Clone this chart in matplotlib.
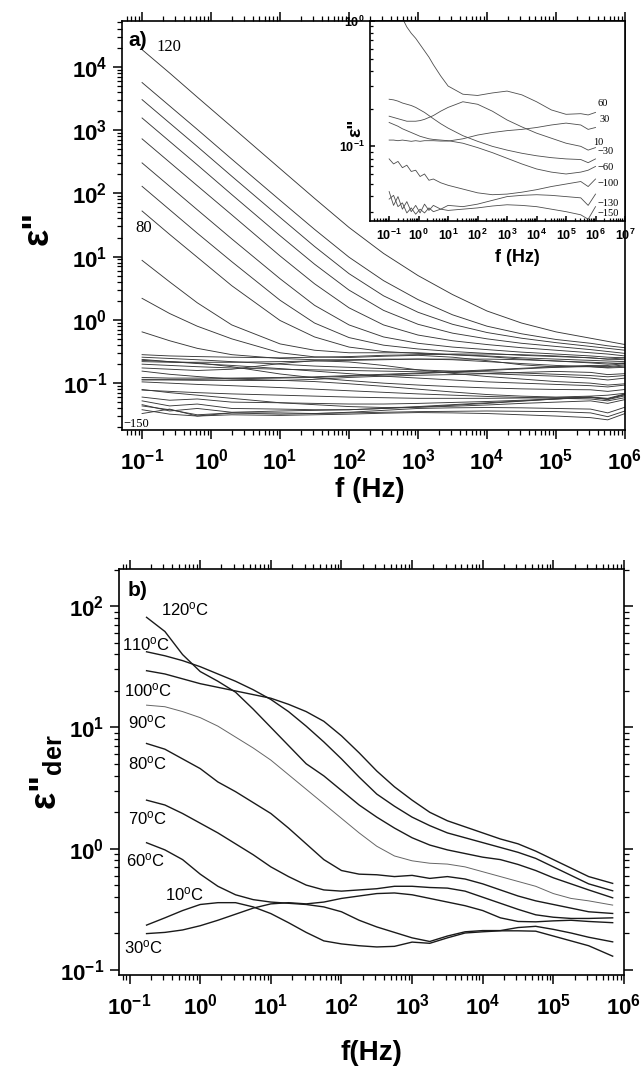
import numpy as np
import matplotlib
matplotlib.use("Agg")
from matplotlib import pyplot as plt
from matplotlib.ticker import FixedLocator, FuncFormatter, NullFormatter

plt.rcParams['font.family'] = ['Liberation Sans', 'DejaVu Sans']
plt.rcParams['mathtext.fontset'] = 'custom'
plt.rcParams['mathtext.rm'] = 'Liberation Sans'
plt.rcParams['mathtext.it'] = 'Liberation Sans:italic'
plt.rcParams['mathtext.bf'] = 'Liberation Sans:bold'

# ---------------- panel a: log10(f / Hz) and log10(eps'') ----------------
logf_a = [-1, -0.6, -0.2, 0.3, 1, 1.5, 2, 2.5, 3, 3.5, 4, 4.5, 5, 5.5, 5.75, 6]
temps_a = [120, 115, 110, 105, 100, 95, 90, 80, 70, 60, 50, 40, 30, 20, 10, 0,
           -10, -20, -30, -40, -50, -60, -70, -80, -90, -100, -110, -120, -130, -140, -150]
loge_a = [
    [4.27, 3.90, 3.52, 3.05, 2.39, 1.92, 1.46, 1.05, 0.70, 0.40, 0.14, -0.05, -0.19, -0.29, -0.34, -0.39],
    [3.75, 3.38, 3.01, 2.54, 1.89, 1.43, 0.99, 0.62, 0.32, 0.08, -0.10, -0.22, -0.31, -0.37, -0.41, -0.44],
    [3.48, 3.11, 2.74, 2.27, 1.62, 1.16, 0.73, 0.38, 0.12, -0.07, -0.20, -0.29, -0.36, -0.42, -0.45, -0.48],
    [3.19, 2.82, 2.45, 1.98, 1.33, 0.88, 0.47, 0.15, -0.07, -0.21, -0.30, -0.37, -0.42, -0.47, -0.50, -0.53],
    [2.86, 2.49, 2.12, 1.66, 1.01, 0.57, 0.19, -0.08, -0.24, -0.33, -0.39, -0.44, -0.48, -0.52, -0.54, -0.57],
    [2.48, 2.11, 1.74, 1.28, 0.65, 0.23, -0.08, -0.27, -0.37, -0.43, -0.47, -0.51, -0.54, -0.57, -0.59, -0.60],
    [2.11, 1.74, 1.37, 0.92, 0.31, -0.05, -0.28, -0.40, -0.46, -0.50, -0.53, -0.56, -0.58, -0.60, -0.62, -0.63],
    [1.72, 1.35, 0.99, 0.54, -0.01, -0.27, -0.43, -0.50, -0.53, -0.55, -0.57, -0.60, -0.62, -0.64, -0.65, -0.66],
    [0.94, 0.60, 0.27, -0.08, -0.38, -0.48, -0.52, -0.52, -0.52, -0.55, -0.58, -0.62, -0.65, -0.67, -0.68, -0.69],
    [0.34, 0.10, -0.10, -0.30, -0.52, -0.585, -0.595, -0.575, -0.56, -0.59, -0.645, -0.71, -0.745, -0.74, -0.75, -0.73],
    [-0.19, -0.33, -0.45, -0.55, -0.61, -0.63, -0.63, -0.62, -0.62, -0.63, -0.66, -0.69, -0.72, -0.74, -0.76, -0.75],
    [-0.55, -0.57, -0.58, -0.59, -0.60, -0.59, -0.58, -0.56, -0.55, -0.54, -0.54, -0.55, -0.57, -0.60, -0.62, -0.60],
    [-0.95, -0.95, -0.955, -0.957, -0.958, -0.94, -0.91, -0.89, -0.875, -0.865, -0.85, -0.83, -0.815, -0.83, -0.865, -0.85],
    [-0.66, -0.67, -0.67, -0.67, -0.66, -0.65, -0.64, -0.63, -0.62, -0.62, -0.62, -0.63, -0.65, -0.68, -0.70, -0.68],
    [-0.76, -0.78, -0.80, -0.78, -0.69, -0.645, -0.665, -0.72, -0.79, -0.845, -0.895, -0.935, -0.975, -1.00, -1.03, -1.01],
    [-0.59, -0.61, -0.63, -0.66, -0.70, -0.73, -0.75, -0.77, -0.79, -0.81, -0.82, -0.84, -0.86, -0.88, -0.90, -0.88],
    [-0.70, -0.72, -0.74, -0.76, -0.78, -0.79, -0.80, -0.81, -0.82, -0.83, -0.85, -0.87, -0.89, -0.92, -0.95, -0.92],
    [-0.64, -0.66, -0.69, -0.72, -0.77, -0.81, -0.85, -0.89, -0.92, -0.95, -0.98, -1.00, -1.02, -1.04, -1.06, -1.03],
    [-0.625, -0.66, -0.68, -0.74, -0.855, -0.915, -0.96, -1.00, -1.03, -1.055, -1.075, -1.09, -1.10, -1.105, -1.13, -1.10],
    [-0.91, -0.92, -0.92, -0.92, -0.91, -0.90, -0.88, -0.86, -0.84, -0.815, -0.79, -0.765, -0.74, -0.72, -0.72, -0.69],
    [-0.94, -0.94, -0.94, -0.93, -0.92, -0.91, -0.89, -0.87, -0.85, -0.825, -0.80, -0.775, -0.75, -0.73, -0.74, -0.71],
    [-0.81, -0.86, -0.895, -0.935, -0.955, -0.975, -1.01, -1.05, -1.095, -1.14, -1.18, -1.205, -1.22, -1.205, -1.19, -1.16],
    [-0.98, -1.00, -1.02, -1.04, -1.07, -1.095, -1.12, -1.145, -1.17, -1.19, -1.21, -1.225, -1.24, -1.25, -1.28, -1.23],
    [-1.11, -1.13, -1.15, -1.17, -1.19, -1.205, -1.22, -1.23, -1.24, -1.24, -1.24, -1.235, -1.23, -1.22, -1.26, -1.20],
    [-1.22, -1.27, -1.25, -1.30, -1.31, -1.32, -1.33, -1.33, -1.32, -1.305, -1.29, -1.27, -1.25, -1.22, -1.25, -1.18],
    [-1.10, -1.15, -1.19, -1.24, -1.31, -1.34, -1.37, -1.385, -1.38, -1.365, -1.345, -1.32, -1.30, -1.28, -1.32, -1.26],
    [-1.28, -1.36, -1.33, -1.40, -1.41, -1.42, -1.42, -1.40, -1.38, -1.35, -1.32, -1.285, -1.25, -1.22, -1.24, -1.17],
    [-1.34, -1.44, -1.40, -1.46, -1.44, -1.43, -1.42, -1.40, -1.37, -1.34, -1.31, -1.28, -1.25, -1.23, -1.25, -1.18],
    [-1.36, -1.42, -1.50, -1.47, -1.47, -1.48, -1.46, -1.43, -1.40, -1.39, -1.385, -1.39, -1.40, -1.41, -1.47, -1.38],
    [-1.48, -1.41, -1.52, -1.47, -1.49, -1.48, -1.47, -1.46, -1.45, -1.445, -1.44, -1.445, -1.45, -1.47, -1.53, -1.44],
    [-1.42, -1.49, -1.52, -1.50, -1.51, -1.50, -1.49, -1.475, -1.465, -1.47, -1.48, -1.50, -1.52, -1.545, -1.58, -1.48],
]

# ---------------- inset of panel a ----------------
logf_in = [-1, -0.85, -0.7, -0.55, -0.4, -0.25, -0.1, 0.05, 0.2, 0.35, 0.5, 0.75,
           1, 1.5, 2, 2.5, 3, 3.5, 4, 4.5, 5, 5.5, 5.75, 6]
temps_in = [60, 30, 10, -30, -60, -100, -130, -150]
loge_in = [
    [0.34, 0.24, 0.14, 0.02, -0.05, -0.10, -0.14, -0.19, -0.24, -0.29, -0.35, -0.44,
     -0.52, -0.585, -0.595, -0.575, -0.56, -0.59, -0.645, -0.71, -0.745, -0.74, -0.75, -0.73],
    [-0.95, -0.95, -0.955, -0.95, -0.955, -0.96, -0.955, -0.96, -0.955, -0.955, -0.955, -0.958,
     -0.958, -0.94, -0.91, -0.89, -0.875, -0.865, -0.85, -0.83, -0.815, -0.83, -0.865, -0.85],
    [-0.76, -0.77, -0.78, -0.79, -0.80, -0.80, -0.80, -0.795, -0.785, -0.77, -0.755, -0.72,
     -0.69, -0.645, -0.665, -0.72, -0.79, -0.845, -0.895, -0.935, -0.975, -1.00, -1.03, -1.01],
    [-0.625, -0.63, -0.64, -0.655, -0.665, -0.675, -0.69, -0.71, -0.73, -0.755, -0.78, -0.82,
     -0.855, -0.915, -0.96, -1.00, -1.03, -1.055, -1.075, -1.09, -1.10, -1.105, -1.13, -1.10],
    [-0.81, -0.825, -0.84, -0.86, -0.875, -0.89, -0.905, -0.92, -0.93, -0.94, -0.945, -0.95,
     -0.955, -0.975, -1.01, -1.05, -1.095, -1.14, -1.18, -1.205, -1.22, -1.205, -1.19, -1.16],
    [-1.10, -1.14, -1.12, -1.17, -1.15, -1.20, -1.19, -1.24, -1.22, -1.27, -1.26, -1.29,
     -1.31, -1.34, -1.37, -1.385, -1.38, -1.365, -1.345, -1.32, -1.30, -1.28, -1.32, -1.26],
    [-1.36, -1.47, -1.40, -1.50, -1.44, -1.52, -1.47, -1.53, -1.46, -1.51, -1.47, -1.50,
     -1.47, -1.48, -1.46, -1.43, -1.40, -1.39, -1.385, -1.39, -1.40, -1.41, -1.47, -1.38],
    [-1.42, -1.39, -1.48, -1.45, -1.53, -1.49, -1.54, -1.50, -1.53, -1.49, -1.52, -1.50,
     -1.51, -1.50, -1.49, -1.475, -1.465, -1.47, -1.48, -1.50, -1.52, -1.545, -1.58, -1.48],
]

# ---------------- panel b: log10(f) and log10(eps''_der) ----------------
logf_b = [-0.76, -0.5, -0.25, 0, 0.25, 0.5, 0.75, 1, 1.25, 1.5, 1.75, 2, 2.25, 2.5,
          2.75, 3, 3.25, 3.5, 3.75, 4, 4.25, 4.5, 4.75, 5, 5.25, 5.5, 5.84]
temps_b = [120, 110, 100, 90, 80, 70, 60, 30, 10]
loge_b = [
    # 120
    [1.907, 1.79, 1.60, 1.46, 1.38, 1.29, 1.15, 1.00, 0.85, 0.70, 0.60, 0.48, 0.36, 0.26,
     0.17, 0.09, 0.03, -0.01, -0.04, -0.07, -0.09, -0.13, -0.18, -0.24, -0.29, -0.34, -0.405],
    # 110
    [1.623, 1.59, 1.55, 1.50, 1.44, 1.38, 1.31, 1.23, 1.13, 1.01, 0.88, 0.74, 0.59, 0.45,
     0.35, 0.26, 0.19, 0.13, 0.09, 0.05, 0.01, -0.03, -0.08, -0.15, -0.22, -0.29, -0.347],
    # 100
    [1.467, 1.44, 1.40, 1.36, 1.33, 1.30, 1.27, 1.24, 1.19, 1.13, 1.05, 0.93, 0.79, 0.64,
     0.51, 0.40, 0.30, 0.23, 0.18, 0.13, 0.08, 0.04, -0.02, -0.09, -0.16, -0.23, -0.286],
    # 90
    [1.183, 1.17, 1.13, 1.08, 1.01, 0.92, 0.83, 0.73, 0.61, 0.49, 0.37, 0.25, 0.13, 0.02,
     -0.06, -0.10, -0.12, -0.127, -0.15, -0.19, -0.23, -0.27, -0.31, -0.37, -0.41, -0.43, -0.465],
    # 80
    [0.867, 0.82, 0.74, 0.66, 0.55, 0.47, 0.38, 0.29, 0.17, 0.04, -0.09, -0.18, -0.21, -0.215,
     -0.23, -0.22, -0.245, -0.23, -0.25, -0.29, -0.34, -0.39, -0.43, -0.46, -0.49, -0.52, -0.534],
    # 70
    [0.40, 0.36, 0.29, 0.21, 0.13, 0.04, -0.05, -0.15, -0.23, -0.30, -0.34, -0.35, -0.34, -0.33,
     -0.31, -0.31, -0.32, -0.325, -0.35, -0.40, -0.45, -0.50, -0.545, -0.565, -0.575, -0.575, -0.57],
    # 60
    [0.049, -0.01, -0.09, -0.21, -0.31, -0.38, -0.42, -0.44, -0.45, -0.46, -0.48, -0.52, -0.59, -0.645,
     -0.69, -0.735, -0.765, -0.72, -0.685, -0.675, -0.675, -0.65, -0.64, -0.665, -0.695, -0.73, -0.768],
    # 30
    [-0.70, -0.69, -0.67, -0.635, -0.59, -0.54, -0.49, -0.455, -0.445, -0.455, -0.44, -0.41, -0.39, -0.37,
     -0.365, -0.38, -0.41, -0.44, -0.47, -0.51, -0.57, -0.60, -0.603, -0.595, -0.59, -0.60, -0.61],
    # 10
    [-0.63, -0.57, -0.51, -0.46, -0.445, -0.445, -0.48, -0.535, -0.61, -0.69, -0.76, -0.785, -0.80, -0.81,
     -0.805, -0.77, -0.78, -0.735, -0.695, -0.685, -0.677, -0.677, -0.68, -0.72, -0.76, -0.80, -0.886],
]

W, H = 644.0, 1068.0


def px(x, y):
    # pixel position in the reference -> figure fraction
    return x / W, 1 - y / H


def decade_fmt(v, pos):
    return r'$\mathbf{10^{%d}}$' % int(round(np.log10(v)))


def decade_ticks(axis, lo, hi):
    k0 = int(np.ceil(np.log10(lo) - 1e-9))
    k1 = int(np.floor(np.log10(hi) + 1e-9))
    majors = [10.0 ** k for k in range(k0, k1 + 1)]
    minors = [m * 10.0 ** k for k in range(k0 - 1, k1 + 1) for m in range(2, 10)
              if lo <= m * 10.0 ** k <= hi]
    axis.set_major_locator(FixedLocator(majors))
    axis.set_minor_locator(FixedLocator(minors))
    axis.set_major_formatter(FuncFormatter(decade_fmt))
    axis.set_minor_formatter(NullFormatter())


def setup_axes(ax, xlim, ylim, labelsize, direction, length, sides):
    ax.set_xscale('log')
    ax.set_yscale('log')
    ax.set_xlim(*xlim)
    ax.set_ylim(*ylim)
    decade_ticks(ax.xaxis, *xlim)
    decade_ticks(ax.yaxis, *ylim)
    ax.tick_params(which='major', direction=direction, length=length, width=1.1,
                   labelsize=labelsize, pad=4)
    ax.tick_params(which='minor', direction=direction, length=length * 0.55, width=0.9)
    ax.tick_params(which='both', top=sides[0], right=sides[1], labeltop=False, labelright=False)
    for s in ax.spines.values():
        s.set_linewidth(1.2)


fig = plt.figure(figsize=(6.44, 10.68), dpi=100)
serif = ['Liberation Serif', 'DejaVu Serif']

# ---- panel a ----
ax_a = fig.add_axes([0.189, 0.5974, 0.7815, 0.3832])
fa = np.power(10.0, logf_a)
for t, row in zip(temps_a, loge_a):
    ax_a.plot(fa, np.power(10.0, row), color='0.22', lw=0.65)
setup_axes(ax_a, (10 ** -1.295, 1e6), (10 ** -1.74, 10 ** 4.727), 16, 'out', 6.5, (True, False))
ax_a.tick_params(axis='x', which='major', pad=7)

fig.text(*px(128, 40), 'a)', fontsize=15, fontweight='bold', ha='left', va='center')
fig.text(*px(156, 47), '120', fontsize=12, family=serif, ha='left', va='center')
fig.text(*px(135, 228), '80', fontsize=12, family=serif, ha='left', va='center')
fig.text(*px(123, 424), '\u2212150', fontsize=9, family=serif, ha='left', va='center')
fig.text(*px(370, 490), 'f (Hz)', fontsize=20, fontweight='bold', ha='center', va='center')
fig.text(*px(38, 228), '\u03b5"', fontsize=26, fontweight='bold', rotation=90,
         ha='center', va='center')

# ---- inset ----
ax_in = fig.add_axes([0.5745, 0.7931, 0.396, 0.1875])
fi = np.power(10.0, logf_in)
for t, row in zip(temps_in, loge_in):
    ax_in.plot(fi, np.power(10.0, row), color='0.3', lw=0.6)
setup_axes(ax_in, (10 ** -1.65, 1e7), (10 ** -1.594, 1.0), 9, 'in', 3.5, (False, False))
ax_in.tick_params(axis='x', which='major', pad=5)

in_labels = [('60', 597, 104), ('30', 599, 120), ('10', 593, 143), ('\u221230', 597, 152),
             ('\u221260', 598, 167), ('\u2212100', 598, 184), ('\u2212130', 597, 204),
             ('\u2212150', 598, 213)]
for s, x, y in in_labels:
    fig.text(*px(x, y), s, fontsize=7.5, family=serif, ha='left', va='center')
fig.text(*px(517, 257), 'f (Hz)', fontsize=13, fontweight='bold', ha='center', va='center')
fig.text(*px(356, 128), '\u03b5"', fontsize=14, fontweight='bold', rotation=90,
         ha='center', va='center')

# ---- panel b ----
ax_b = fig.add_axes([0.1848, 0.0871, 0.7841, 0.3801])
fb = np.power(10.0, logf_b)
for t, row in zip(temps_b, loge_b):
    if t == 90:
        ax_b.plot(fb, np.power(10.0, row), color='0.4', lw=0.7)
    else:
        ax_b.plot(fb, np.power(10.0, row), color='0.1', lw=1.0)
setup_axes(ax_b, (10 ** -1.15, 1e6), (10 ** -1.041, 10 ** 2.305), 16, 'out', 6.5, (True, True))
ax_b.tick_params(axis='x', which='major', pad=7)

fig.text(*px(128, 590), 'b)', fontsize=15, fontweight='bold', ha='left', va='center')
b_labels = [('120', 161, 609), ('110', 122, 644), ('100', 124, 690), ('90', 128, 722),
            ('80', 128, 763), ('70', 128, 818), ('60', 126, 860), ('10', 165, 894),
            ('30', 124, 947)]
for s, x, y in b_labels:
    fig.text(*px(x, y), s + r'$^{\mathrm{o}}$C', fontsize=12, ha='left', va='center')
fig.text(*px(371, 1053), 'f(Hz)', fontsize=20, fontweight='bold', ha='center', va='center')
fig.text(*px(46, 772), '\u03b5"$_{\\mathbf{der}}$', fontsize=26, fontweight='bold',
         rotation=90, ha='center', va='center')

fig.savefig('out.png', dpi=100)
